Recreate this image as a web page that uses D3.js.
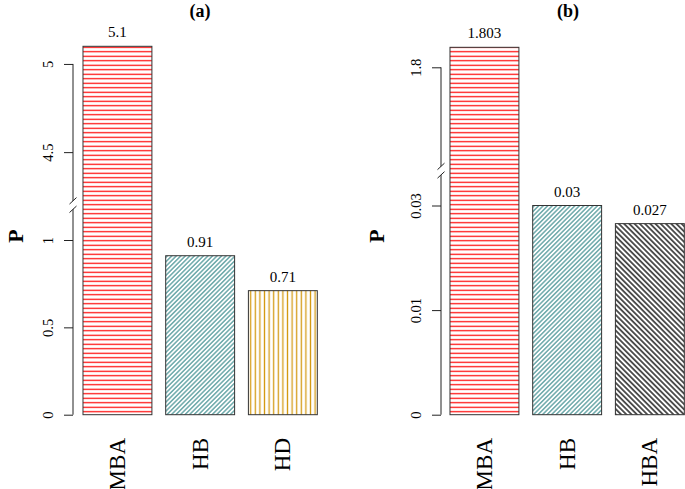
<!DOCTYPE html>
<html>
<head>
<meta charset="utf-8">
<script src="https://cdn.jsdelivr.net/npm/d3@7"></script>
<style>
  html, body { margin: 0; padding: 0; background: #fff; }
  svg { display: block; font-family: "Liberation Serif", "Times New Roman", serif; }
</style>
</head>
<body>
<svg id="chart" width="685" height="489"></svg>
<script>
// ---- data ----
const categoriesA = ["MBA", "HB", "HD"];
const valuesA = [5.1, 0.91, 0.71];
const valueLabelsA = ["5.1", "0.91", "0.71"];
const tickValuesA = [0, 0.5, 1, 4.5, 5];
const tickLabelsA = ["0", "0.5", "1", "4.5", "5"];
const gapA = [1.2, 4.2];

const categoriesB = ["MBA", "HB", "HBA"];
const valuesB = [1.803, 0.03, 0.0274];
const valueLabelsB = ["1.803", "0.03", "0.027"];
const tickValuesB = [0, 0.015, 0.03, 1.8];
const tickLabelsB = ["0", "0.01", "0.03", "1.8"];
const gapB = [0.035, 1.7845];

const titles = ["(a)", "(b)"];
const yLabel = "P";

// ---- patterns ----
const svg = d3.select("#chart");
svg.append("rect").attr("width", 685).attr("height", 489).attr("fill", "#fff");
const defs = svg.append("defs");

function linePattern(id, color, spacing, angle, width) {
  const p = defs.append("pattern")
    .attr("id", id)
    .attr("patternUnits", "userSpaceOnUse")
    .attr("width", spacing).attr("height", 10)
    .attr("patternTransform", `rotate(${angle})`);
  p.append("rect").attr("width", spacing).attr("height", 10).attr("fill", "#fff");
  p.append("line")
    .attr("x1", spacing / 2).attr("x2", spacing / 2)
    .attr("y1", -1).attr("y2", 11)
    .attr("stroke", color).attr("stroke-width", width);
}
linePattern("pat-MBA", "#ff0000", 4.5, 90, 1.2);
linePattern("pat-HB", "#4f9799", 3.2, 45, 1.25);
linePattern("pat-HD", "#d49a12", 4.6, 0, 1.3);
linePattern("pat-HBA", "#000000", 3.7, -45, 1.3);

// ---- panel drawing ----
function brokenScale(y0, lowPx, highPx, lowTop, highBottom, top) {
  const yBreak = y0 - lowTop * lowPx;
  const yTop = yBreak - (top - highBottom) * highPx;
  return d3.scaleLinear()
    .domain([0, lowTop, highBottom, top])
    .range([y0, yBreak, yBreak, yTop]);
}

function drawPanel(opts) {
  const { cats, vals, valLabels, ticks, tickLabels, gap, y, axisX, bandRange, title, titleX, yLabX } = opts;
  const g = svg.append("g");

  const x = d3.scaleBand().domain(cats).range(bandRange)
    .paddingInner(0.1667).paddingOuter(0.0833);

  // bars
  g.selectAll("rect.bar").data(cats).enter().append("rect")
    .attr("class", "bar")
    .attr("x", d => x(d))
    .attr("width", x.bandwidth())
    .attr("y", (d, i) => y(vals[i]))
    .attr("height", (d, i) => y(0) - y(vals[i]))
    .attr("fill", d => `url(#pat-${d})`)
    .attr("stroke", "#333")
    .attr("stroke-width", 1);

  // value labels
  g.selectAll("text.val").data(cats).enter().append("text")
    .attr("class", "val")
    .attr("x", d => x(d) + x.bandwidth() / 2)
    .attr("y", (d, i) => y(vals[i]) - 9)
    .attr("text-anchor", "middle")
    .attr("font-size", 15)
    .text((d, i) => valLabels[i]);

  // category labels
  g.selectAll("text.cat").data(cats).enter().append("text")
    .attr("class", "cat")
    .attr("transform", d => `translate(${x(d) + x.bandwidth() / 2},438) rotate(-90)`)
    .attr("text-anchor", "end")
    .attr("dy", "0.33em")
    .attr("font-size", 23)
    .text(d => d);

  // y axis
  const axis = d3.axisLeft(y).tickValues(ticks)
    .tickFormat((d, i) => tickLabels[i])
    .tickSize(9).tickSizeOuter(0);
  const ag = g.append("g").attr("transform", `translate(${axisX},0)`).call(axis);
  ag.select(".domain").remove();
  ag.selectAll(".tick line").attr("stroke", "#222");
  ag.selectAll(".tick text")
    .attr("x", null).attr("dy", null)
    .attr("text-anchor", "middle")
    .attr("font-family", "Liberation Serif")
    .attr("font-size", 14.5)
    .attr("fill", "#000")
    .attr("transform", "translate(-20,0) rotate(-90)");
  ag.append("line")
    .attr("x1", 0).attr("x2", 0)
    .attr("y1", y(d3.min(ticks))).attr("y2", y(d3.max(ticks)))
    .attr("stroke", "#222").attr("stroke-width", 1);

  // axis break
  const yb = y(gap[0]);
  ag.append("polygon")
    .attr("points", [[-3.5, yb - 1], [3.5, yb - 7.5], [3.5, yb + 1], [-3.5, yb + 7.5]].map(p => p.join(",")).join(" "))
    .attr("fill", "#fff");
  ag.append("line").attr("x1", -3.5).attr("y1", yb - 1).attr("x2", 3.5).attr("y2", yb - 7.5)
    .attr("stroke", "#222").attr("stroke-width", 1);
  ag.append("line").attr("x1", -3.5).attr("y1", yb + 7.5).attr("x2", 3.5).attr("y2", yb + 1)
    .attr("stroke", "#222").attr("stroke-width", 1);

  // title
  g.append("text")
    .attr("x", titleX).attr("y", 17)
    .attr("text-anchor", "middle")
    .attr("font-size", 18).attr("font-weight", "bold")
    .text(title);

  // y label
  g.append("text")
    .attr("transform", `translate(${yLabX},236) rotate(-90)`)
    .attr("text-anchor", "middle")
    .attr("font-size", 22).attr("font-weight", "bold")
    .text(yLabel);
}

const yA = brokenScale(414.7, 174.7, 176.4, gapA[0], gapA[1], 5.2);
const yB = brokenScale(414.7, 6973, 6667, gapB[0], gapB[1], 1.81);

drawPanel({
  cats: categoriesA, vals: valuesA, valLabels: valueLabelsA,
  ticks: tickValuesA, tickLabels: tickLabelsA, gap: gapA, y: yA,
  axisX: 73, bandRange: [76.1, 324.2], title: titles[0], titleX: 200, yLabX: 23
});
drawPanel({
  cats: categoriesB, vals: valuesB, valLabels: valueLabelsB,
  ticks: tickValuesB, tickLabels: tickLabelsB, gap: gapB, y: yB,
  axisX: 441, bandRange: [443.1, 691.2], title: titles[1], titleX: 568, yLabX: 384
});
</script>
</body>
</html>
